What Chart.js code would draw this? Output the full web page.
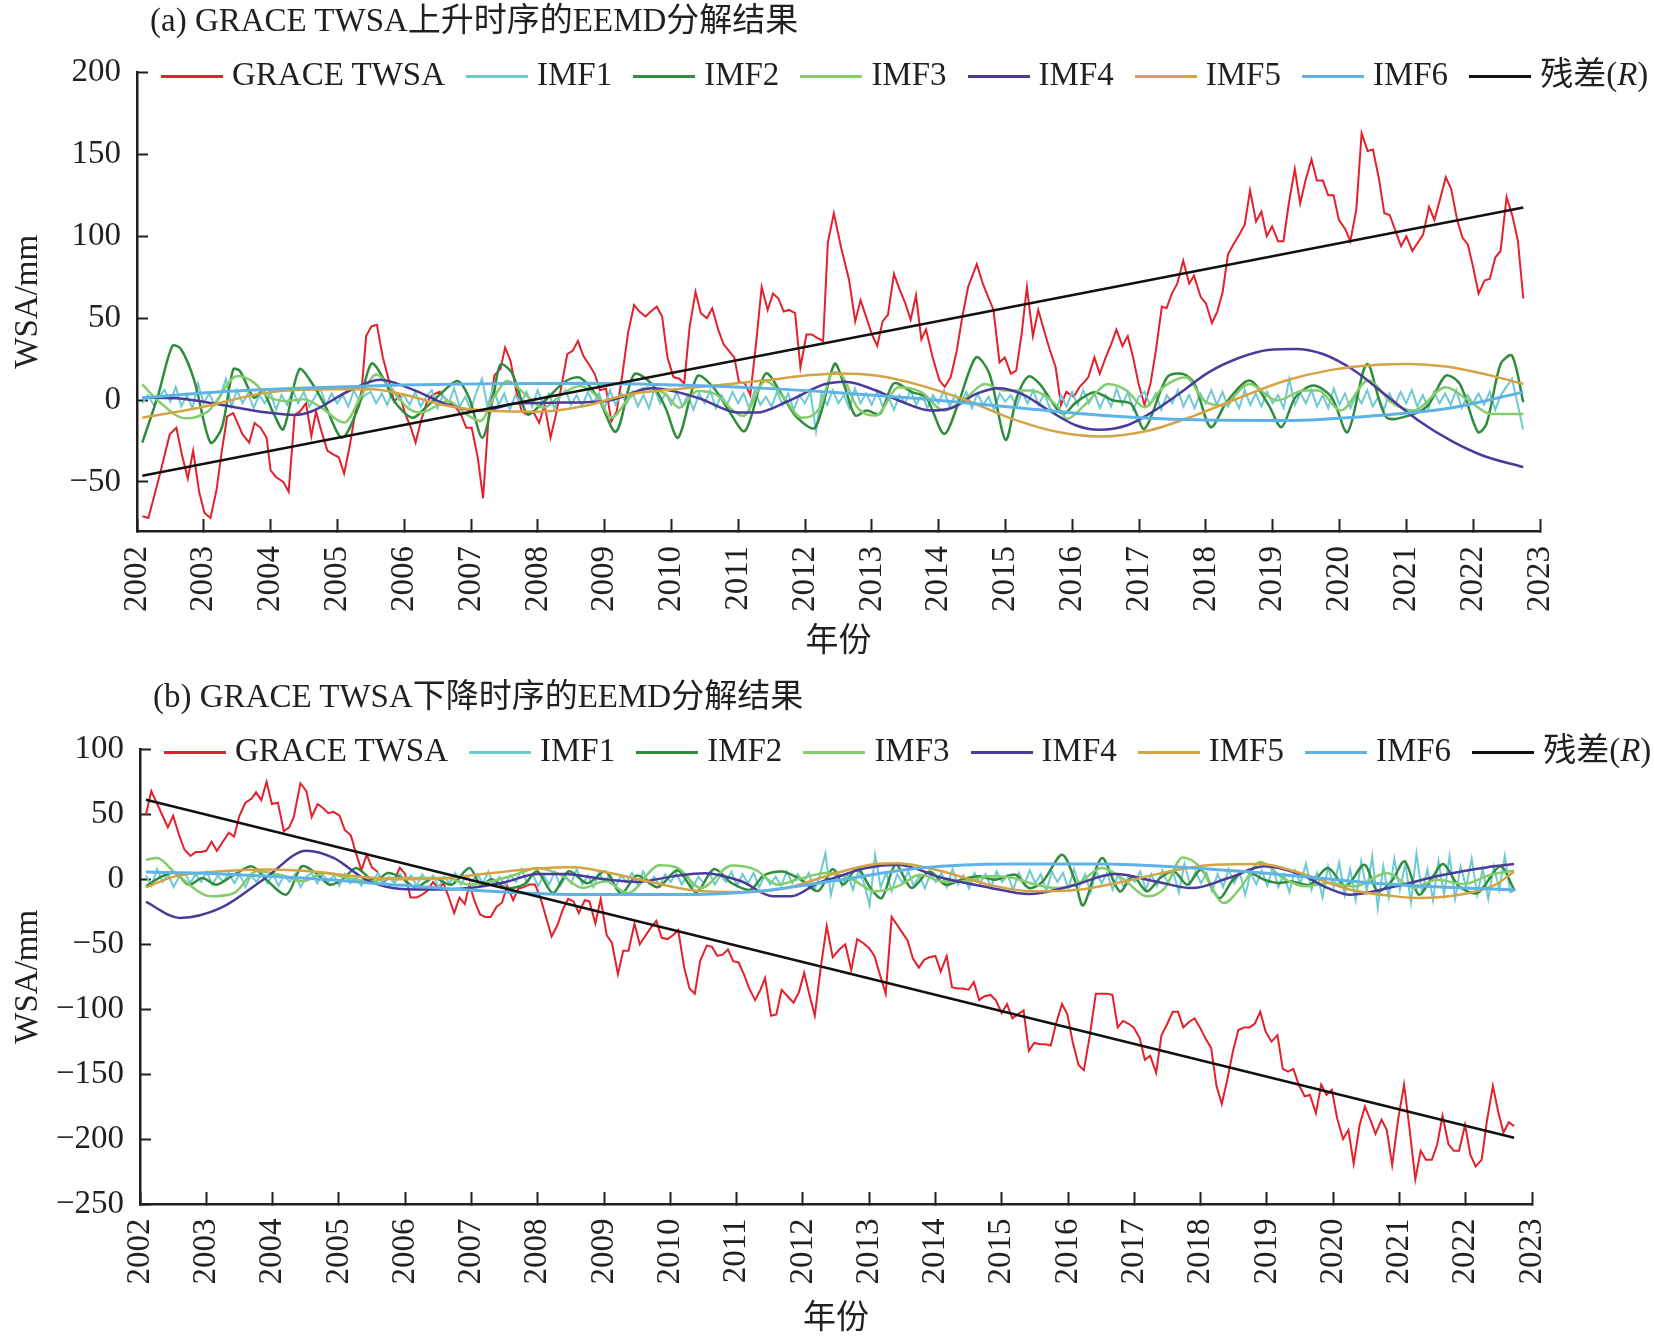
<!DOCTYPE html>
<html><head><meta charset="utf-8">
<script src="https://cdn.jsdelivr.net/npm/chart.js@4.4.0/dist/chart.umd.min.js"></script>
<style>
html,body{margin:0;padding:0;background:#fff;}
#wrap{position:relative;width:1654px;height:1341px;overflow:hidden;font-family:"Liberation Serif","Noto Sans CJK SC",serif;color:#231f20;}
canvas{position:absolute;left:0;}
.title{position:absolute;font-size:33px;line-height:33px;white-space:nowrap;}
.legend{position:absolute;display:flex;align-items:center;font-size:33px;line-height:33px;white-space:nowrap;}
.item{display:flex;align-items:center;margin-right:21px;}
.sw{width:62px;height:3px;margin-right:9px;position:relative;top:2px;}
</style></head>
<body>
<div id="wrap">
<canvas id="cA" width="1654" height="670" style="top:0"></canvas>
<canvas id="cB" width="1654" height="671" style="top:670px"></canvas>
<div class="title" id="titleA" style="left:150px;top:4px"></div>
<div class="legend" id="legA" style="left:161px;top:58px"></div>
<div class="title" id="titleB" style="left:153px;top:680px"></div>
<div class="legend" id="legB" style="left:164px;top:734px"></div>
</div>
<script>
// ---------- texts / categories ----------
const titleA = '(a) GRACE TWSA上升时序的EEMD分解结果';
const titleB = '(b) GRACE TWSA下降时序的EEMD分解结果';
const seriesNames = ['GRACE TWSA','IMF1','IMF2','IMF3','IMF4','IMF5','IMF6','残差(R)'];
const xTitle = '年份';
const yTitle = 'WSA/mm';
const yearTicks = [2002,2003,2004,2005,2006,2007,2008,2009,2010,2011,2012,2013,2014,2015,2016,2017,2018,2019,2020,2021,2022,2023];
const yTicksA = [-50,0,50,100,150,200];
const yTicksB = [-250,-200,-150,-100,-50,0,50,100];

// ---------- (a) rising series ----------
const twsaA = [[2002.08,-71],[2002.17,-72],[2002.32,-49],[2002.49,-21],[2002.59,-17],[2002.67,-33],[2002.76,-48],[2002.84,-31],[2002.93,-56],[2003.01,-69],[2003.10,-72],[2003.19,-55],[2003.27,-31],[2003.35,-10],[2003.44,-8],[2003.58,-21],[2003.68,-26],[2003.76,-14],[2003.85,-17],[2003.94,-23],[2004.0,-43],[2004.08,-47],[2004.19,-50],[2004.27,-56],[2004.36,-9],[2004.44,-7],[2004.53,-2],[2004.61,-22],[2004.68,-7],[2004.76,-19],[2004.85,-31],[2004.93,-33],[2005.02,-35],[2005.10,-45],[2005.18,-29],[2005.27,-7],[2005.36,5],[2005.43,39],[2005.51,45],[2005.59,46],[2005.68,26],[2005.77,12],[2005.85,-1],[2005.93,3],[2006.02,-9],[2006.10,-17],[2006.17,-26],[2006.25,-13],[2006.34,-1],[2006.42,3],[2006.53,5],[2006.61,1],[2006.69,-2],[2006.78,-5],[2006.85,-9],[2006.93,-17],[2007.01,-17],[2007.10,-35],[2007.18,-60],[2007.27,-6],[2007.35,15],[2007.44,19],[2007.51,32],[2007.59,24],[2007.68,5],[2007.76,-7],[2007.85,-9],[2007.93,-7],[2008.02,-14],[2008.10,-3],[2008.19,-23],[2008.27,-9],[2008.36,10],[2008.44,28],[2008.52,30],[2008.60,36],[2008.68,27],[2008.76,22],[2008.85,16],[2008.93,6],[2009.02,7],[2009.10,-13],[2009.18,-7],[2009.27,17],[2009.35,41],[2009.44,58],[2009.52,54],[2009.61,51],[2009.69,54],[2009.78,57],[2009.86,51],[2009.94,26],[2010.03,14],[2010.12,13],[2010.19,10],[2010.27,44],[2010.36,66],[2010.44,53],[2010.53,50],[2010.61,56],[2010.70,43],[2010.78,34],[2010.86,30],[2010.94,26],[2011.01,11],[2011.10,10],[2011.18,3],[2011.27,36],[2011.35,69],[2011.44,55],[2011.52,65],[2011.60,62],[2011.68,54],[2011.76,55],[2011.85,53],[2011.93,20],[2012.02,40],[2012.10,40],[2012.18,38],[2012.27,36],[2012.34,96],[2012.43,114],[2012.54,93],[2012.66,73],[2012.75,48],[2012.83,61],[2012.92,50],[2013.0,40],[2013.08,33],[2013.16,48],[2013.24,52],[2013.33,77],[2013.41,68],[2013.50,59],[2013.58,49],[2013.66,64],[2013.74,37],[2013.81,43],[2013.91,26],[2014.01,12],[2014.09,8],[2014.18,14],[2014.27,30],[2014.35,50],[2014.44,69],[2014.57,83],[2014.66,71],[2014.74,63],[2014.82,55],[2014.91,23],[2014.99,26],[2015.08,16],[2015.16,18],[2015.24,40],[2015.32,69],[2015.41,39],[2015.49,55],[2015.58,42],[2015.66,31],[2015.75,20],[2015.83,-3],[2015.91,5],[2016.02,2],[2016.11,8],[2016.20,12],[2016.24,14],[2016.33,26],[2016.41,16],[2016.50,26],[2016.58,34],[2016.66,43],[2016.75,33],[2016.83,39],[2016.91,26],[2016.99,10],[2017.08,-3],[2017.17,10],[2017.25,30],[2017.34,57],[2017.41,56],[2017.49,65],[2017.57,71],[2017.66,85],[2017.75,71],[2017.82,76],[2017.92,63],[2018.0,59],[2018.09,47],[2018.17,54],[2018.25,66],[2018.33,89],[2018.41,95],[2018.50,101],[2018.58,107],[2018.66,128],[2018.75,109],[2018.83,115],[2018.91,100],[2018.99,106],[2019.08,97],[2019.16,97],[2019.24,120],[2019.33,141],[2019.41,120],[2019.49,134],[2019.58,147],[2019.66,134],[2019.75,134],[2019.83,125],[2019.91,125],[2019.99,110],[2020.09,104],[2020.16,97],[2020.25,116],[2020.33,163],[2020.42,152],[2020.50,153],[2020.59,135],[2020.67,114],[2020.75,113],[2020.84,103],[2020.92,94],[2021.00,100],[2021.09,91],[2021.17,96],[2021.25,101],[2021.34,118],[2021.42,110],[2021.50,122],[2021.59,136],[2021.67,129],[2021.76,110],[2021.84,99],[2021.92,95],[2022.00,81],[2022.08,65],[2022.17,73],[2022.25,74],[2022.33,87],[2022.41,91],[2022.50,124],[2022.59,112],[2022.67,97],[2022.75,62]];
const imf1AStart = 2002.08;
const imf1A = [-2,3,-3,2,6,-1,8,-4,3,-5,10,-2,
 4,-3,2,13,-4,6,-2,4,-5,3,-2,5,
 -6,3,-3,6,-2,5,-4,2,7,-3,4,-2,
 3,-4,6,-1,3,5,-2,4,-3,6,0,3,
 -3,5,-4,2,6,-5,3,-2,7,-4,2,-6,
 5,13,-4,8,-3,4,-6,3,-2,5,-4,6,
 -3,4,-5,2,6,-3,3,-4,5,-2,4,-5,
 6,-3,4,-2,5,-4,3,-5,7,-2,4,-3,
 5,-4,3,-6,4,-2,6,-5,3,-3,5,-2,
 4,-5,6,-3,2,-4,5,-3,4,-6,3,-2,
 5,-19,4,-3,6,-2,3,-5,7,-2,4,-3,
 5,-4,2,-6,3,-2,6,-3,4,-5,3,-2,
 6,-4,3,-2,5,-5,4,-3,2,-6,4,-1,
 3,-4,5,-2,6,-3,4,-5,-8,3,-4,5,
 -3,6,-2,4,-5,3,-4,7,-3,5,-6,2,
 5,-3,4,-6,3,-2,6,-4,3,-5,4,-2,
 6,-3,5,-4,2,-5,6,-3,4,-4,5,-2,
 3,-5,13,-3,4,-2,6,-4,3,-5,7,-3,
 4,-5,3,-2,6,-4,2,-6,4,-3,5,-2,
 6,-4,3,-5,5,-2,4,-3,6,-5,3,-2,
 4,-3,5,-6,3,8,13,-2,-18];
const imf2A = [[2002.08,-26],[2002.32,3.5],[2002.53,33],[2002.66,31],[2002.86,11.6],[2003.10,-26],[2003.27,-16.9],[2003.44,18.7],[2003.54,17.7],[2003.75,1.4],[2003.88,5.5],[2004.05,-8.7],[2004.19,-17.9],[2004.43,18.7],[2004.63,9.6],[2004.83,-4.7],[2005.07,-23],[2005.31,-4.7],[2005.51,22.2],[2005.71,11.6],[2005.85,-0.6],[2006.12,-10.8],[2006.32,-4.7],[2006.59,5.5],[2006.80,11.6],[2006.97,1.4],[2007.17,-23],[2007.34,3.5],[2007.44,21.7],[2007.61,16.7],[2007.81,-6.7],[2007.88,-8.7],[2008.15,1.4],[2008.42,11.6],[2008.63,13.6],[2008.90,1.4],[2009.17,-19.3],[2009.44,15.6],[2009.71,9.6],[2009.91,-4.7],[2010.10,-23],[2010.39,14.6],[2010.63,7.5],[2010.86,-6.7],[2011.10,-18.9],[2011.41,16.1],[2011.68,1.4],[2011.88,-10.8],[2012.15,-16.9],[2012.44,22],[2012.58,9.8],[2012.75,-9.5],[2012.92,-6.4],[2013.12,-8.5],[2013.33,10.2],[2013.60,4.8],[2013.81,1.7],[2014.08,-20.6],[2014.29,-2.4],[2014.56,26.1],[2014.76,15.9],[2015.0,-24.3],[2015.17,1.7],[2015.34,14.3],[2015.51,9.8],[2015.85,-8.5],[2016.06,-1.3],[2016.33,4.8],[2016.61,-0.3],[2016.88,-2.4],[2017.08,-17.6],[2017.42,13.9],[2017.66,15.9],[2017.83,9.8],[2018.07,-16.6],[2018.31,-1.3],[2018.65,11.9],[2018.93,-2.4],[2019.13,-16.6],[2019.34,1.7],[2019.61,8.8],[2019.88,1.7],[2020.12,-19.6],[2020.41,22],[2020.70,-10.5],[2021.04,-9.5],[2021.32,-3.4],[2021.59,14.9],[2021.80,9.8],[2022.07,-19.6],[2022.20,-14.5],[2022.41,22],[2022.58,27.1],[2022.75,-1.3]];
const imf3A = [[2002.08,9.6],[2002.32,-0.6],[2002.73,-11.2],[2003.07,-6.7],[2003.51,14.6],[2003.75,10.6],[2003.95,2.4],[2004.22,-0.6],[2004.49,0.4],[2004.76,-4.7],[2005.10,-13.8],[2005.37,3.5],[2005.58,15.6],[2005.78,8.5],[2006.05,-4.7],[2006.25,-7.7],[2006.66,-0.6],[2006.93,-8.7],[2007.14,-12.8],[2007.34,1.4],[2007.54,11.6],[2007.81,3.5],[2008.08,-4.7],[2008.36,3.5],[2008.63,8.5],[2008.90,1.4],[2009.10,-10.8],[2009.37,1.4],[2009.64,7.5],[2009.91,3.5],[2010.12,-4.7],[2010.39,5.5],[2010.66,3.5],[2010.93,-6.7],[2011.07,-9.8],[2011.41,11.6],[2011.68,1.4],[2011.95,-10.8],[2012.22,-4.7],[2012.42,17],[2012.55,15],[2012.78,-4.4],[2013.06,-9.5],[2013.40,7.8],[2013.74,4.8],[2014.08,-6.4],[2014.42,1.7],[2014.69,9.8],[2014.97,5.8],[2015.38,5.8],[2015.79,-4.4],[2015.92,-11.5],[2016.20,-2.4],[2016.54,9.8],[2016.81,5.8],[2017.08,-4.4],[2017.36,7.8],[2017.70,13.9],[2017.97,-0.3],[2018.24,-3.4],[2018.65,9.8],[2019.06,-0.3],[2019.47,5.8],[2019.68,5.8],[2020.02,-6.4],[2020.43,11.9],[2020.77,-1.3],[2021.11,-6.4],[2021.59,7.8],[2021.93,-0.3],[2022.27,-8.5],[2022.75,-8.5]];
const imf4A = [[2002.08,1.4],[2002.59,1],[2003.27,-3],[2003.95,-7.7],[2004.36,-9.1],[2004.63,-6.7],[2005.17,5.5],[2005.64,12.4],[2006.12,6.5],[2006.66,-3],[2007.14,-6.7],[2007.68,-2.2],[2008.36,-1.6],[2009.03,-0.6],[2009.71,7.1],[2010.39,1.4],[2011.0,-7.7],[2011.27,-7.7],[2011.75,-0.6],[2012.29,9.6],[2012.60,11.2],[2013.06,5.8],[2013.40,-0.3],[2013.88,-6.4],[2014.22,-4.4],[2014.56,3.7],[2014.9,7.2],[2015.24,3.7],[2015.65,-6.4],[2016.06,-15.6],[2016.40,-18.2],[2016.81,-15.6],[2017.15,-8.5],[2017.56,2.7],[2018.04,16.9],[2018.52,26.1],[2018.93,30.6],[2019.34,31.2],[2019.75,28.1],[2020.22,18],[2020.70,2.7],[2021.18,-12.5],[2021.66,-24.7],[2022.14,-33.9],[2022.75,-41]];
const imf5A = [[2002.08,-10.8],[2002.93,-4.7],[2003.95,4.5],[2004.97,6.5],[2005.51,6.5],[2005.98,3.5],[2006.66,-3.7],[2007.34,-6.7],[2008.02,-7.1],[2008.69,-3.7],[2009.37,3.5],[2010.05,6.5],[2010.73,9.1],[2011.41,12],[2012.08,15.2],[2012.55,16.2],[2013.06,14.9],[2013.74,8.8],[2014.42,-0.3],[2015.10,-11.5],[2015.79,-19.6],[2016.40,-22.3],[2017.15,-18.6],[2017.83,-9.5],[2018.52,1.7],[2019.20,11.9],[2019.88,18.4],[2020.57,21.6],[2021.04,22],[2021.59,20.4],[2022.27,14.9],[2022.75,9.8]];
const imf6A = [[2002.08,1.4],[2003.27,5],[2004.63,7.5],[2005.98,9.1],[2007.34,10],[2008.69,10.2],[2010.05,9.1],[2011.41,7.1],[2012.45,4.6],[2013.74,0.7],[2015.10,-4.4],[2016.47,-9.5],[2017.83,-12.1],[2019.2,-12.5],[2020.57,-9.5],[2021.59,-5.4],[2022.75,4.8]];
const resA = [[2002.08,-46.3],[2022.75,117.6]];

// ---------- (b) falling series ----------
const twsaB = [[2002.09,50],[2002.17,68],[2002.26,58],[2002.34,49],[2002.42,40],[2002.50,49],[2002.59,34],[2002.67,23],[2002.76,18],[2002.84,21],[2002.92,21],[2003.0,22],[2003.08,29],[2003.16,22],[2003.25,29],[2003.34,36],[2003.42,33],[2003.50,49],[2003.59,59],[2003.68,62],[2003.75,67],[2003.83,61],[2003.91,75],[2003.99,58],[2004.08,59],[2004.17,37],[2004.25,40],[2004.32,48],[2004.42,74],[2004.51,68],[2004.59,48],[2004.68,58],[2004.76,55],[2004.84,51],[2004.92,52],[2005.01,49],[2005.09,38],[2005.18,34],[2005.26,20],[2005.34,7],[2005.42,19],[2005.50,9],[2005.58,6],[2005.66,-3],[2005.75,1],[2005.84,0],[2005.92,9],[2006.0,4],[2006.08,-14],[2006.17,-14],[2006.25,-12],[2006.33,-9],[2006.42,-2],[2006.50,-7],[2006.58,-3],[2006.66,-14],[2006.74,-26],[2006.82,-14],[2006.90,-19],[2006.97,-4],[2007.05,-17],[2007.13,-27],[2007.21,-29],[2007.29,-29],[2007.38,-21],[2007.46,-18],[2007.54,-5],[2007.63,-16],[2007.71,-7],[2007.79,-6],[2007.87,-4],[2007.96,-4],[2008.04,-14],[2008.13,-30],[2008.21,-44],[2008.30,-35],[2008.38,-23],[2008.46,-15],[2008.54,-17],[2008.62,-26],[2008.71,-16],[2008.78,-17],[2008.87,-34],[2008.95,-15],[2009.04,-43],[2009.12,-49],[2009.21,-73],[2009.29,-55],[2009.37,-55],[2009.46,-34],[2009.54,-50],[2009.63,-43],[2009.71,-37],[2009.79,-32],[2009.87,-45],[2009.96,-46],[2010.04,-43],[2010.12,-39],[2010.21,-68],[2010.29,-84],[2010.37,-88],[2010.45,-63],[2010.55,-51],[2010.63,-52],[2010.71,-59],[2010.79,-58],[2010.87,-54],[2010.95,-63],[2011.03,-64],[2011.11,-73],[2011.19,-84],[2011.28,-93],[2011.36,-85],[2011.43,-76],[2011.52,-105],[2011.60,-104],[2011.68,-85],[2011.77,-90],[2011.86,-95],[2011.94,-87],[2012.02,-72],[2012.10,-89],[2012.18,-105],[2012.27,-68],[2012.36,-36],[2012.45,-60],[2012.55,-54],[2012.64,-50],[2012.73,-70],[2012.82,-46],[2012.91,-49],[2013.0,-53],[2013.08,-59],[2013.16,-73],[2013.25,-88],[2013.34,-29],[2013.42,-35],[2013.50,-41],[2013.58,-47],[2013.66,-61],[2013.75,-68],[2013.83,-62],[2013.91,-60],[2014.0,-59],[2014.08,-71],[2014.17,-59],[2014.25,-83],[2014.33,-84],[2014.41,-84],[2014.50,-85],[2014.58,-79],[2014.66,-93],[2014.74,-90],[2014.83,-89],[2014.91,-93],[2015.0,-103],[2015.08,-96],[2015.16,-107],[2015.24,-104],[2015.33,-101],[2015.41,-132],[2015.49,-126],[2015.58,-127],[2015.66,-127],[2015.74,-128],[2015.82,-111],[2015.91,-96],[2015.99,-104],[2016.07,-125],[2016.16,-143],[2016.24,-147],[2016.33,-120],[2016.42,-88],[2016.50,-88],[2016.59,-88],[2016.67,-89],[2016.75,-114],[2016.83,-109],[2016.91,-111],[2016.99,-114],[2017.08,-122],[2017.16,-139],[2017.24,-136],[2017.33,-149],[2017.41,-120],[2017.50,-111],[2017.58,-102],[2017.66,-102],[2017.74,-114],[2017.82,-110],[2017.91,-107],[2017.99,-114],[2018.08,-123],[2018.16,-130],[2018.24,-159],[2018.32,-173],[2018.40,-155],[2018.49,-132],[2018.57,-116],[2018.66,-114],[2018.74,-114],[2018.82,-111],[2018.90,-102],[2018.98,-117],[2019.07,-125],[2019.16,-120],[2019.24,-146],[2019.32,-148],[2019.40,-146],[2019.48,-158],[2019.57,-167],[2019.65,-166],[2019.74,-180],[2019.82,-158],[2019.90,-166],[2019.98,-162],[2020.06,-184],[2020.15,-200],[2020.23,-193],[2020.31,-219],[2020.40,-189],[2020.48,-175],[2020.56,-185],[2020.64,-196],[2020.73,-185],[2020.81,-193],[2020.89,-220],[2020.98,-185],[2021.07,-158],[2021.15,-191],[2021.24,-231],[2021.32,-209],[2021.40,-216],[2021.49,-216],[2021.57,-204],[2021.65,-182],[2021.74,-204],[2021.82,-209],[2021.90,-209],[2021.99,-189],[2022.07,-212],[2022.15,-221],[2022.24,-216],[2022.32,-186],[2022.41,-159],[2022.49,-179],[2022.57,-195],[2022.65,-187],[2022.73,-190]];
const imf1BStart = 2002.09;
const imf1B = [3,-5,8,-2,4,-6,2,5,-3,4,-2,6,
 -4,3,-2,5,-3,4,-6,3,-2,5,-3,4,
 -5,3,-2,4,-6,2,5,-3,4,-2,3,-5,
 4,-3,2,-5,3,-2,5,-4,2,-3,4,-2,
 3,-5,4,-2,3,-6,2,-3,5,-4,3,-2,
 4,-3,6,-5,2,-4,3,-2,8,-3,4,-5,
 3,-4,6,-5,2,-3,8,-4,3,-6,5,-2,
 4,-6,3,-2,5,-4,6,-3,2,-5,4,-2,
 5,-4,3,-6,2,-3,5,-4,3,-2,6,-5,
 4,-3,5,-6,3,-4,2,-5,6,-3,4,-2,
 5,-8,3,20,-12,6,-5,4,-8,7,-3,-20,
 19,-6,5,-9,4,-3,6,-5,3,-7,4,-2,
 5,-6,8,-4,3,-7,5,-3,4,-6,6,-2,
 3,-8,5,-4,7,-3,4,-9,6,-2,5,-7,
 8,-5,4,-10,6,-3,5,-8,4,-6,3,-2,
 6,-8,4,-5,7,-3,5,-10,12,-4,6,-3,
 5,-9,4,-6,8,-3,6,-12,5,-4,7,-5,
 9,-6,4,-10,7,-3,12,-8,5,-14,10,-6,
 13,-12,8,-16,14,-9,18,-22,10,-14,16,-8,
 12,-18,20,-10,8,-16,14,-12,18,-15,10,-6,
 16,-12,8,-15,10,-8,18,-10,-8];
const imf2B = [[2002.09,-5.3],[2002.33,2.3],[2002.53,4.9],[2002.74,-4.1],[2002.94,1.1],[2003.15,-4.1],[2003.42,3.6],[2003.69,10],[2003.90,0],[2004.21,-11.7],[2004.44,10],[2004.65,4.9],[2004.86,-4.1],[2005.06,0],[2005.26,8.8],[2005.54,-1.5],[2005.74,4.9],[2005.95,1.1],[2006.15,-6.1],[2006.43,1.1],[2006.70,-4.1],[2006.97,8.8],[2007.14,-4.1],[2007.31,0],[2007.52,-6.6],[2007.79,-4.1],[2007.99,6.2],[2008.23,-10.5],[2008.47,6.2],[2008.75,-3],[2009.02,6],[2009.26,-11],[2009.50,3],[2009.81,-6],[2010.11,7],[2010.39,-10],[2010.66,8],[2010.93,-3],[2011.21,-8],[2011.41,3],[2011.69,6],[2011.96,0],[2012.23,-9],[2012.45,8],[2012.61,-4],[2012.82,8.7],[2013.02,-6.7],[2013.19,-14.4],[2013.40,11.3],[2013.64,-6.7],[2013.91,6.1],[2014.15,-4.1],[2014.39,-0.3],[2014.66,2.3],[2014.90,-0.3],[2015.21,3.6],[2015.41,-6.7],[2015.62,-1.6],[2015.91,19],[2016.10,-0.3],[2016.23,-20],[2016.51,16.4],[2016.78,-9.2],[2016.98,2.3],[2017.19,-9.2],[2017.39,1],[2017.60,6.1],[2017.80,-4.1],[2018.01,7.4],[2018.28,-14.4],[2018.49,-0.3],[2018.69,6.1],[2018.96,-0.3],[2019.17,-2.8],[2019.37,-1.6],[2019.65,-4.1],[2019.92,8.7],[2020.19,-5.4],[2020.47,11.3],[2020.67,-9.2],[2020.88,-1.6],[2021.08,13.9],[2021.29,-11.8],[2021.49,1],[2021.66,11.8],[2021.90,-5.4],[2022.18,-10.5],[2022.52,10],[2022.73,-8]];
const imf3B = [[2002.09,15.2],[2002.26,16.5],[2002.53,4.9],[2003.08,-13],[2003.42,-10.5],[2003.76,6.2],[2004.11,3.6],[2004.45,-1.5],[2004.79,4.9],[2005.13,1.1],[2005.47,-1.5],[2005.81,1.1],[2006.29,1.1],[2006.63,1.1],[2006.97,-4.1],[2007.31,-1.5],[2007.66,3.6],[2008.0,8.8],[2008.34,3.6],[2008.68,-6.6],[2009.02,-1.5],[2009.36,-10.5],[2009.84,10.8],[2010.11,8.8],[2010.46,-6.6],[2010.93,10.6],[2011.28,7.5],[2011.62,-4.1],[2011.96,0.6],[2012.39,5],[2012.75,-0.3],[2013.09,-9.2],[2013.43,-5.4],[2013.77,3.6],[2014.11,-1.6],[2014.46,-1.6],[2014.80,2.3],[2015.14,1.5],[2015.48,-3.6],[2015.82,-6.7],[2016.16,-2.8],[2016.51,8.7],[2016.85,-0.3],[2017.19,-13.1],[2017.46,-6.7],[2017.73,16.9],[2018.01,8.7],[2018.35,-18.2],[2018.62,-5.4],[2018.90,13.3],[2019.24,1],[2019.58,-5.4],[2019.92,-2.8],[2020.33,-5.4],[2020.81,4.9],[2021.22,-6.7],[2021.56,-0.3],[2021.97,-3.6],[2022.38,3.6],[2022.73,6.7]];
const imf4B = [[2002.09,-17.4],[2002.60,-29.7],[2003.22,-22],[2003.90,1.3],[2004.51,22.1],[2004.92,16.5],[2005.40,0],[2005.81,-6.6],[2006.29,-7.9],[2006.97,-6.6],[2007.52,-2],[2007.99,4.2],[2008.40,4.2],[2009.02,0],[2009.50,-2],[2010.04,2.3],[2010.52,4.7],[2011.07,-1.5],[2011.55,-13],[2011.82,-13],[2012.23,-2.8],[2012.50,1.5],[2012.95,8.7],[2013.43,11.3],[2014.11,1],[2014.80,-6.2],[2015.41,-11.3],[2016.03,-5.4],[2016.71,4.1],[2017.32,-1.6],[2017.87,-6.7],[2018.42,1],[2018.96,10],[2019.51,3.6],[2019.92,-6.7],[2020.26,-11.8],[2020.94,-5.4],[2021.63,3.1],[2022.31,9.2],[2022.73,11.8]];
const imf5B = [[2002.09,-6.1],[2002.53,2.3],[2003.22,6.2],[2003.90,7.5],[2004.58,6.2],[2005.26,2.3],[2005.95,0],[2006.63,1.1],[2007.31,4.9],[2007.99,8.3],[2008.54,9.3],[2009.09,4.9],[2009.70,-2],[2010.39,-8.7],[2011.07,-9.7],[2011.75,-6.6],[2012.48,4.5],[2013.09,11.8],[2013.43,12.5],[2014.11,6.1],[2014.80,-4.1],[2015.48,-9.2],[2016.16,-8],[2016.85,-1.6],[2017.53,6.1],[2018.21,11.3],[2018.90,11.8],[2019.58,3.6],[2020.26,-8],[2020.94,-13.1],[2021.29,-14.4],[2021.97,-11.3],[2022.45,-4.1],[2022.73,6.1]];
const imf6B = [[2002.09,5.7],[2003.22,4.2],[2004.58,0.6],[2005.95,-4.6],[2007.31,-9.2],[2008.68,-11.7],[2010.04,-11.7],[2011.41,-8.7],[2012.48,-1],[2013.77,8.7],[2015.14,11.8],[2016.51,11.8],[2017.87,8.7],[2019.24,3.6],[2020.60,-2.8],[2021.97,-6.7],[2022.73,-8]];
const resB = [[2002.09,61.3],[2022.73,-199]];

// ---------- styles ----------
const ink = '#231f20';
const lineColors = ['#e3202b','#6fc9d2','#2f8c3b','#83cd6c','#4a3a9a','#d5a343','#5db3e5','#111111'];
const lineWidths = [2,2,2.5,2.5,2.5,2.5,3,2.5];
const fontFamily = '"Liberation Serif","Noto Sans CJK SC",serif';
Chart.defaults.font.family = fontFamily;
Chart.defaults.color = ink;

const pairs = arr => arr.map(p => ({x: p[0], y: p[1]}));
const monthly = (start, vals) => vals.map((v, i) => ({x: start + i / 12, y: v}));
const fmt = v => v < 0 ? '\u2212' + Math.abs(v) : String(v);

function build(id, series, o) {
  const datasets = series.map((data, k) => ({
    label: seriesNames[k],
    data: data,
    borderColor: lineColors[k],
    borderWidth: lineWidths[k],
    pointRadius: 0,
    fill: false,
    tension: k === 2 ? 0.3 : 0,
    cubicInterpolationMode: (k >= 3 && k <= 6) ? 'monotone' : 'default',
    order: 7 - k
  }));
  new Chart(document.getElementById(id), {
    type: 'line',
    data: {datasets},
    options: {
      responsive: false, animation: false, events: [],
      layout: {padding: {top: o.top, right: o.right, left: 0, bottom: 0}},
      plugins: {legend: {display: false}, tooltip: {enabled: false}, title: {display: false}},
      scales: {
        x: {
          type: 'linear', min: 2002, max: 2023,
          afterBuildTicks: s => { s.ticks = yearTicks.map(v => ({value: v})); },
          afterFit: s => { s.height = o.xh; s.paddingLeft = 0; s.paddingRight = 0; },
          ticks: {autoSkip: false, minRotation: 90, maxRotation: 90, padding: o.xpad, color: ink,
                  font: {size: 33, lineHeight: 1}, callback: v => String(v)},
          grid: {drawOnChartArea: false, drawTicks: true, tickLength: -12, tickWidth: 2, tickColor: ink},
          border: {display: true, color: ink, width: 2.5},
          title: {display: true, text: xTitle, color: ink, font: {size: 33, lineHeight: 1}, padding: {top: 0, bottom: o.xtp}}
        },
        y: {
          min: o.ymin, max: o.ymax,
          afterBuildTicks: s => { s.ticks = o.yticks.map(v => ({value: v})); },
          afterFit: s => { s.width = o.yw; s.paddingTop = 0; s.paddingBottom = 0; },
          ticks: {padding: 27, color: ink, font: {size: 33, lineHeight: 1}, callback: v => fmt(v)},
          grid: {drawOnChartArea: false, drawTicks: true, tickLength: -11, tickWidth: 2, tickColor: ink},
          border: {display: true, color: ink, width: 2.5},
          title: {display: true, text: yTitle, color: ink, font: {size: 33, lineHeight: 1}, padding: {top: 11.5, bottom: 0}}
        }
      }
    }
  });
}

build('cA', [pairs(twsaA), monthly(imf1AStart, imf1A), pairs(imf2A), pairs(imf3A), pairs(imf4A), pairs(imf5A), pairs(imf6A), pairs(resA)],
  {top: 72.5, right: 114, xh: 139, yw: 137, ymin: -80, ymax: 200, yticks: yTicksA, xpad: 27, xtp: 11.5});
build('cB', [pairs(twsaB), monthly(imf1BStart, imf1B), pairs(imf2B), pairs(imf3B), pairs(imf4B), pairs(imf5B), pairs(imf6B), pairs(resB)],
  {top: 79.5, right: 122, xh: 137, yw: 140, ymin: -250, ymax: 100, yticks: yTicksB, xpad: 26.5, xtp: 5.5});

// ---------- titles & legends (HTML text) ----------
document.getElementById('titleA').textContent = titleA;
document.getElementById('titleB').textContent = titleB;
function legend(id) {
  const el = document.getElementById(id);
  seriesNames.forEach((name, k) => {
    const item = document.createElement('div');
    item.className = 'item';
    const sw = document.createElement('span');
    sw.className = 'sw';
    sw.style.background = lineColors[k];
    item.appendChild(sw);
    const t = document.createElement('span');
    const m = name.match(/^(.*)\((R)\)$/);
    if (m) {
      t.appendChild(document.createTextNode(m[1] + '('));
      const i = document.createElement('i'); i.textContent = m[2]; t.appendChild(i);
      t.appendChild(document.createTextNode(')'));
    } else t.textContent = name;
    item.appendChild(t);
    el.appendChild(item);
  });
}
legend('legA'); legend('legB');
</script>
</body></html>
